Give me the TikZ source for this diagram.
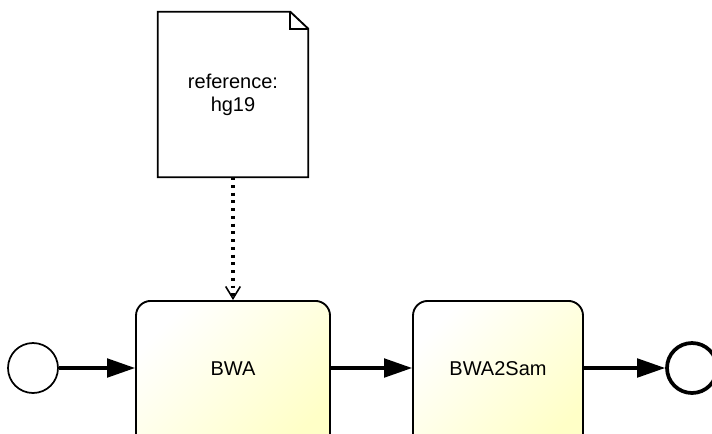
\documentclass[tikz,border=0pt]{standalone}
\usepackage{fontspec}
\setmainfont{Liberation Sans}
\usetikzlibrary{arrows.meta}
\begin{document}
\begin{tikzpicture}[x=0.75pt, y=-0.75pt,
    task/.style={rounded corners=11pt, draw, line width=1.4pt, top color=white, bottom color=yellow!22, shading angle=45, minimum height=115pt, anchor=north},
    tasktext/.style={font=\fontsize{15}{18}\selectfont, yshift=7pt},
    flow/.style={-{Triangle[length=21pt, width=14pt]}, line width=2.3pt},
    assoc/.style={-{Straight Barb[length=9pt, width=11pt, line width=1.2pt]}, line width=2.4pt, dash pattern=on 2.2pt off 3.6pt}
]
\useasboundingbox (0,0) rectangle (712,433);
% data object
\node[minimum width=112.5pt, minimum height=123.75pt, align=center, font=\fontsize{15}{17}\selectfont] (doc) at (233,94.5) {reference:\\hg19};
\draw[line width=1.4pt] (doc.north west) -- ([xshift=-13.5pt]doc.north east) -- ([yshift=-12.75pt]doc.north east) -- (doc.south east) -- (doc.south west) -- cycle;
\draw[line width=1.4pt] ([xshift=-13.5pt]doc.north east) |- ([yshift=-12.75pt]doc.north east);
% events and tasks
\node[circle, draw, line width=1.3pt, minimum size=37.5pt, inner sep=0pt] (start) at (33,368) {};
\node[task, minimum width=145.5pt, label={[tasktext]center:BWA}] (bwa) at (233,300) {};
\node[task, minimum width=127.5pt, label={[tasktext]center:BWA2Sam}] (sam) at (498,300) {};
\node[circle, draw, line width=2.8pt, minimum size=37.5pt, inner sep=0pt] (end) at (692,368) {};
% connections
\draw[flow] (start) -- (start -| bwa.west);
\draw[flow] (start -| bwa.east) -- (start -| sam.west);
\draw[flow] (start -| sam.east) -- (end);
\draw[assoc] (doc) -- (bwa);
\end{tikzpicture}
\end{document}
